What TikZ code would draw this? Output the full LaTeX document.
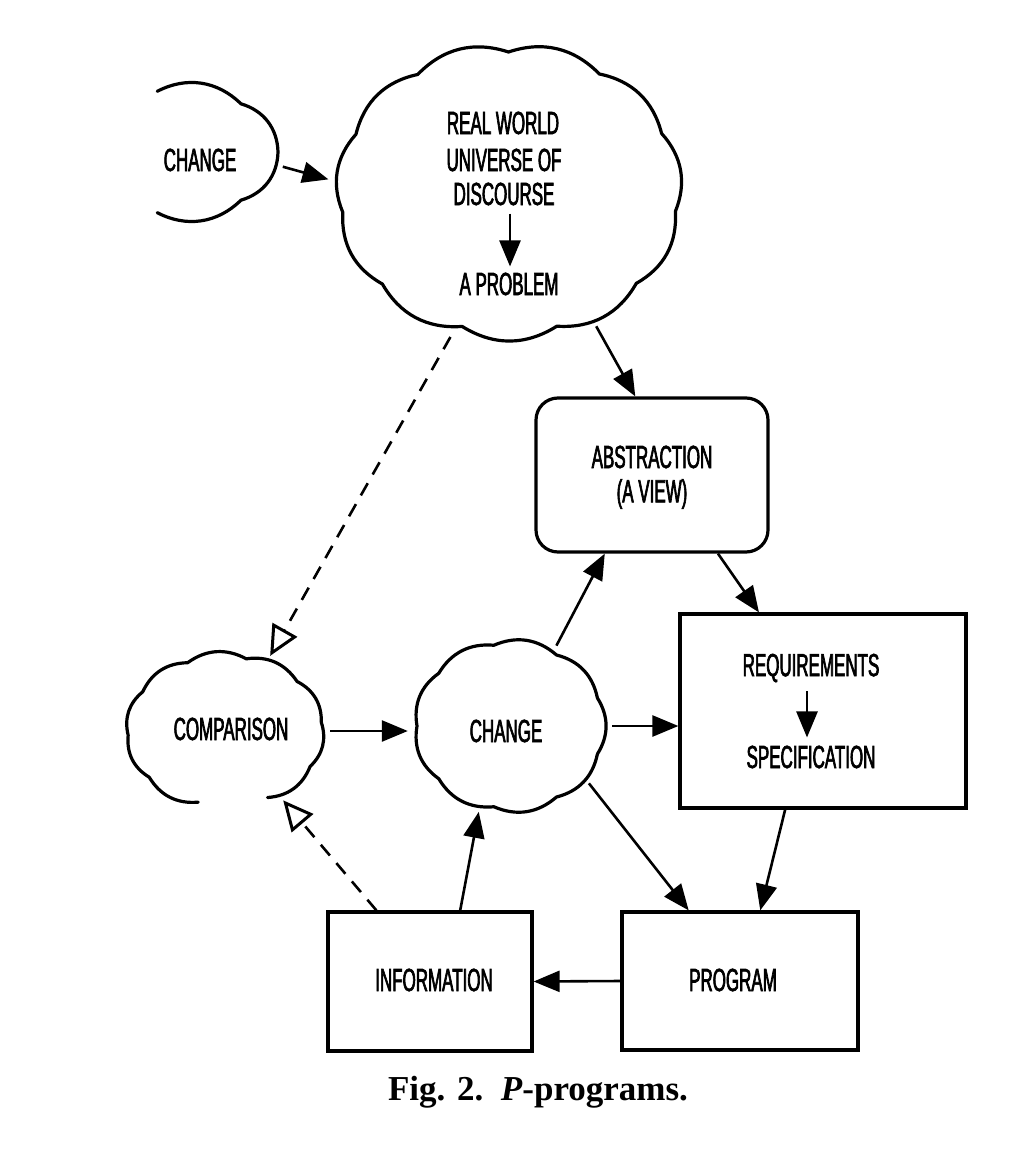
\documentclass[tikz,border=0pt]{standalone}
\usepackage{fontspec}
\usetikzlibrary{arrows.meta,shapes.geometric}
\newfontfamily\lblfont[FakeStretch=0.53,FakeBold=2]{Liberation Sans}
\newfontfamily\capfont{Liberation Serif}
\newcommand\cloudline[8][32]{%
  \draw[cloudst] ({#2+#4*cos(#6)},{#3+#5*sin(#6)})
  foreach \i in {1,...,#8} { to[bend left=#1] ({#2+#4*cos(#6+\i*(#7-#6)/#8)},{#3+#5*sin(#6+\i*(#7-#6)/#8)}) };}
\tikzset{
  cloudst/.style={line width=3.2pt, line join=round, line cap=round},
  anch/.style={ellipse, draw=none, inner sep=0pt},
  lbl/.style={inner sep=0pt, font=\lblfont\fontsize{32}{32}\selectfont},
  boxst/.style={draw, line width=3.2pt, inner sep=0pt},
  arr/.style={-{Triangle[length=26pt,width=21pt]}, line width=2.6pt},
  darr/.style={-{Triangle[open,length=30pt,width=28pt,line width=3pt]}, line width=2.6pt, dash pattern=on 14pt off 10pt}
}
\begin{document}
\begin{tikzpicture}[x=1pt,y=-1pt]
\useasboundingbox[fill=white] (0,0) rectangle (1022,1150);
% anchor ellipses for clouds
\node[anch, minimum width=214pt, minimum height=140pt] (chg1) at (178,152) {};
\node[anch, minimum width=362pt, minimum height=306pt] (rw) at (509,192) {};
\node[anch, minimum width=210pt, minimum height=166pt] (cmp) at (225,731) {};
\node[anch, minimum width=204pt, minimum height=180pt] (chg2) at (510,726) {};
% cloud outlines
\cloudline[36]{178}{152}{100}{62}{-102}{102}{4}
\cloudline{509}{192}{168}{140}{8}{368}{11}
\cloudline{225}{731}{97}{74}{106}{424}{9}
\cloudline{510}{726}{93}{82}{20}{380}{9}
% boxes
\node[boxst, rounded corners=22pt, minimum width=232pt, minimum height=154pt] (abs) at (652,475) {};
\node[boxst, minimum width=286pt, minimum height=194pt] (req) at (823,711) {};
\node[boxst, minimum width=204pt, minimum height=139pt] (info) at (430,981.5) {};
\node[boxst, minimum width=236pt, minimum height=138pt] (prog) at (740,981) {};
% texts
\node[lbl] (t1) at (200,160) {CHANGE};
\node[lbl] (t2) at (503,123) {REAL WORLD};
\node[lbl] (t3) at (504,160) {UNIVERSE OF};
\node[lbl] (t4) at (504,194) {DISCOURSE};
\node[lbl] (t5) at (509,284) {A PROBLEM};
\node[lbl] (t6) at (652,457) {ABSTRACTION};
\node[lbl] (t7) at (652,494) {(A VIEW)};
\node[lbl] (t8) at (811,668) {REQUIREMENTS};
\node[lbl] (t9) at (811,757) {SPECIFICATION};
\node[lbl] (t10) at (231,729) {COMPARISON};
\node[lbl] (t11) at (506,731) {CHANGE};
\node[lbl] (t12) at (434,980) {INFORMATION};
\node[lbl] (t13) at (733,980) {PROGRAM};
\node[inner sep=0pt, font=\capfont\bfseries\fontsize{35}{35}\selectfont] (cap) at (538,1092) {Fig. 2.\ \ \textit{P}-programs.};
% inner arrows
\draw[arr] ([yshift=-8pt]t4.south -| 510,0) -- ([yshift=6pt]t5.north -| 510,0);
\draw[arr] ([yshift=-9pt]t8.south -| 807,0) -- ([yshift=8pt]t9.north -| 807,0);
% connectors
\draw[arr] (chg1.-8) -- (rw.176);
\draw[arr] (rw.-57) -- (abs.102);
\draw[arr] (abs.-50) -- (req.123);
\draw[arr] (chg2.60) -- (abs.-121);
\draw[arr] (cmp.east) -- (cmp.east -| chg2.west);
\draw[arr] (chg2.east) -- (chg2.east -| req.west);
\draw[arr] (chg2.-36) -- (prog.126);
\draw[arr] (req.-111) -- (prog.74);
\draw[arr] (prog.west) -- (info.east);
\draw[arr] (info.67) -- (chg2.-110);
\draw[darr] (info.127) -- (cmp.-50);
\draw[darr] (rw.-112) -- (cmp.59);
\end{tikzpicture}
\end{document}
